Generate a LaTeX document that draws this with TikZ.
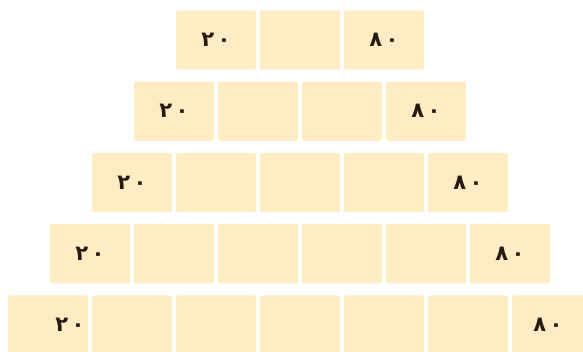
\documentclass[tikz,border=0pt]{standalone}
\usepackage{fontspec}
\newfontfamily\arabicfont[Script=Arabic]{DejaVu Sans}
\usetikzlibrary{positioning}

\definecolor{cellfill}{RGB}{253, 236, 196}
\definecolor{digitink}{RGB}{38, 26, 18}

\begin{document}
\begin{tikzpicture}[
    x=0.025cm, y=0.025cm,
    % --- Style Definitions ---
    cell/.style={
        rectangle, rounded corners=1pt,
        fill=cellfill, draw=none,
        minimum width=2cm, minimum height=1.48cm,
        inner sep=0pt
    },
    numlabel/.style={
        font=\arabicfont\bfseries\fontsize{15}{17}\selectfont,
        text=digitink, inner sep=0pt
    }
]

% ================= Frame =================
\useasboundingbox (0,0) rectangle (583,351);

% ================= Pyramid of cells =================
% Row \r holds \r+2 cells, all rows centred on x = 300
\foreach \r in {1,...,5} {
    \pgfmathtruncatemacro\n{\r+2}
    \foreach \c in {1,...,\n} {
        \node[cell] (r\r c\c) at ({300+(\c-(\n+1)/2)*84}, {311-(\r-1)*71.25}) {};
    }
}

% ================= End labels =================
\node[numlabel] (lo1) at (r1c1) {۲\,۰};
\node[numlabel] (hi1) at (r1c3) {۸\,۰};

\node[numlabel] (lo2) at (r2c1) {۲\,۰};
\node[numlabel] (hi2) at (r2c4) {۸\,۰};

\node[numlabel] (lo3) at (r3c1) {۲\,۰};
\node[numlabel] (hi3) at (r3c5) {۸\,۰};

\node[numlabel] (lo4) at (r4c1) {۲\,۰};
\node[numlabel] (hi4) at (r4c6) {۸\,۰};

\node[numlabel, xshift=0.55cm] (lo5) at (r5c1) {۲\,۰};
\node[numlabel, xshift=-0.1cm] (hi5) at (r5c7) {۸\,۰};

\end{tikzpicture}
\end{document}
